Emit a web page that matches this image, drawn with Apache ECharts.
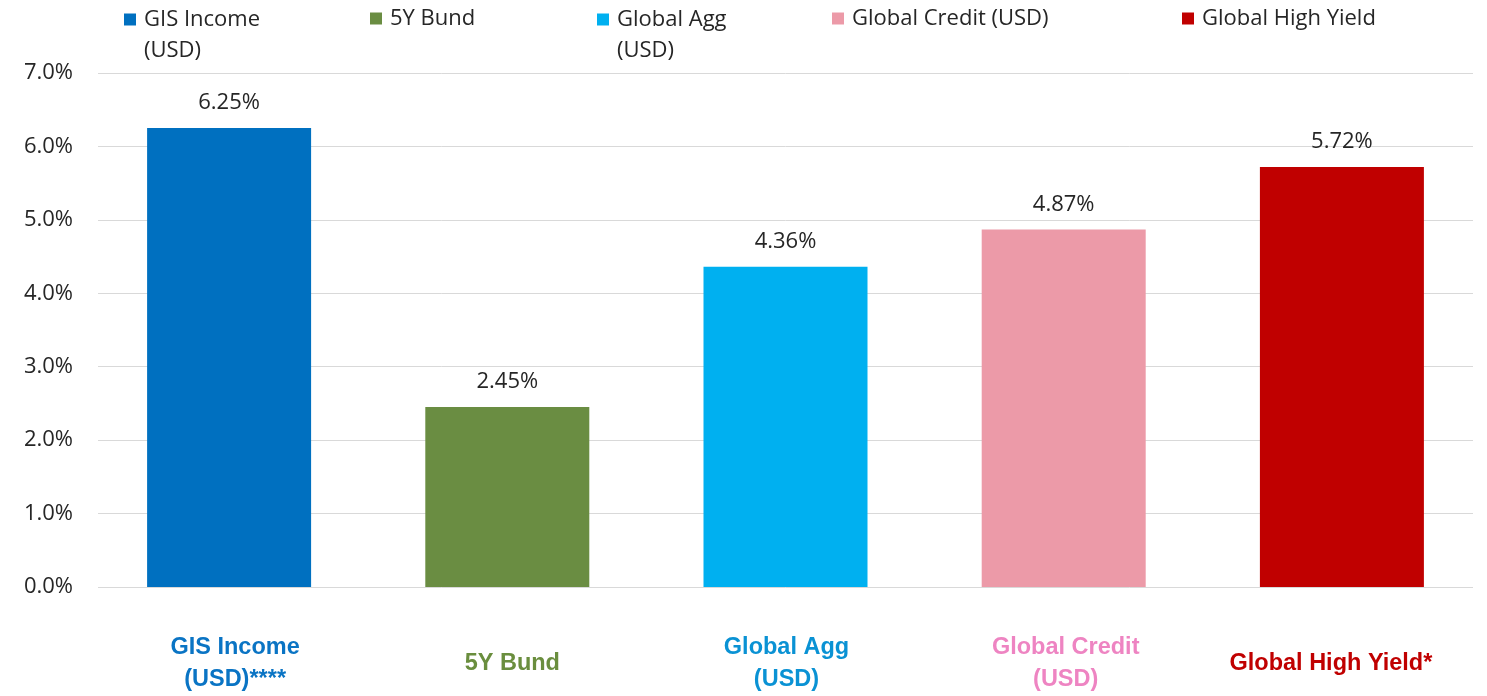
<!DOCTYPE html>
<html>
<head>
<meta charset="utf-8">
<script src="https://cdn.jsdelivr.net/npm/echarts@6/dist/echarts.min.js"></script>
<style>
html,body{margin:0;padding:0;background:#fff;}
#chart{width:1487px;height:696px;}
</style>
</head>
<body>
<div id="chart"></div>
<script>
// ---- data ----
var categories = ['GIS Income\n(USD)****', '5Y Bund', 'Global Agg\n(USD)', 'Global Credit\n(USD)', 'Global High Yield*'];
var seriesNames = ['GIS Income (USD)', '5Y Bund', 'Global Agg (USD)', 'Global Credit (USD)', 'Global High Yield'];
var legendLabels = ['GIS Income\n(USD)', '5Y Bund', 'Global Agg\n(USD)', 'Global Credit (USD)', 'Global High Yield'];
var values = [6.25, 2.45, 4.36, 4.87, 5.72];
var yTicks = [0, 1, 2, 3, 4, 5, 6, 7];

// ---- styles ----
var barColors = ['#0070C0', '#6A8D42', '#00B0F0', '#EC9AA8', '#C00000'];
var labelColors = ['#0A74C4', '#6A8E3E', '#0A92D4', '#EE84C2', '#C00000'];
var labelShift = [6, 5, 1, 2, -11];
var legendLeft = [124, 370, 597, 832, 1182];

var chart = echarts.init(document.getElementById('chart'));

var rich = {};
labelColors.forEach(function (c, i) {
  var s = labelShift[i];
  rich['c' + i] = {
    color: c,
    fontFamily: 'Liberation Sans, Arial, sans-serif',
    fontWeight: 'bold',
    fontSize: 23.5,
    lineHeight: 32,
    padding: s >= 0 ? [0, 0, 0, 2 * s] : [0, -2 * s, 0, 0]
  };
});

var series = seriesNames.map(function (name, i) {
  var d = values.map(function (v, j) { return j === i ? v : '-'; });
  return {
    name: name,
    type: 'bar',
    xAxisIndex: 1,
    yAxisIndex: 1,
    barWidth: 164,
    barGap: '-100%',
    itemStyle: { color: barColors[i] },
    label: {
      show: true,
      position: 'top',
      distance: 13,
      fontFamily: 'Open Sans',
      fontSize: 22,
      lineHeight: 24,
      color: '#262626',
      formatter: function (p) { return Number(p.value).toFixed(2) + '%'; }
    },
    emphasis: { disabled: true },
    data: d
  };
});

var legends = seriesNames.map(function (name, i) {
  var twoLine = legendLabels[i].indexOf('\n') >= 0;
  return {
    data: [{ name: name, icon: 'rect' }],
    left: legendLeft[i],
    top: twoLine ? -27 : 3,
    padding: 0,
    itemWidth: 12,
    itemHeight: 12,
    selectedMode: false,
    formatter: function () { return (twoLine ? '\n' : '') + legendLabels[i]; },
    textStyle: {
      fontFamily: 'Open Sans',
      fontSize: 22,
      lineHeight: 31,
      color: '#262626',
      padding: [0, 0, 0, 3]
    }
  };
});

var option = {
  backgroundColor: '#ffffff',
  animation: false,
  legend: legends,
  grid: [
    { left: 98, right: 14, top: 73, bottom: 109, containLabel: false },
    { left: 90, right: 6, top: 73, bottom: 109, containLabel: false }
  ],
  xAxis: [
    { type: 'category', gridIndex: 0, data: categories, show: false },
    {
      type: 'category', gridIndex: 1, data: categories,
      axisLine: { show: false },
      axisTick: { show: false },
      axisLabel: {
        margin: 77,
        verticalAlign: 'middle',
        fontFamily: 'Liberation Sans, Arial, sans-serif',
        fontWeight: 'bold',
        fontSize: 23.5,
        lineHeight: 32,
        interval: 0,
        rich: rich,
        formatter: function (v, idx) {
          return v.split('\n').map(function (line) {
            return '{c' + idx + '|' + line + '}';
          }).join('\n');
        }
      }
    }
  ],
  yAxis: [
    {
      type: 'value', gridIndex: 0,
      min: yTicks[0], max: yTicks[yTicks.length - 1], interval: 1,
      axisLine: { show: false },
      axisTick: { show: false },
      axisLabel: {
        margin: 25,
        fontFamily: 'Open Sans',
        fontSize: 22,
        color: '#262626',
        formatter: function (v) { return v.toFixed(1) + '%'; }
      },
      splitLine: { lineStyle: { color: '#D9D9D9', width: 1 } }
    },
    {
      type: 'value', gridIndex: 1,
      min: yTicks[0], max: yTicks[yTicks.length - 1], interval: 1,
      show: false,
      splitLine: { show: false }
    }
  ],
  series: series
};

chart.setOption(option);
</script>
</body>
</html>
